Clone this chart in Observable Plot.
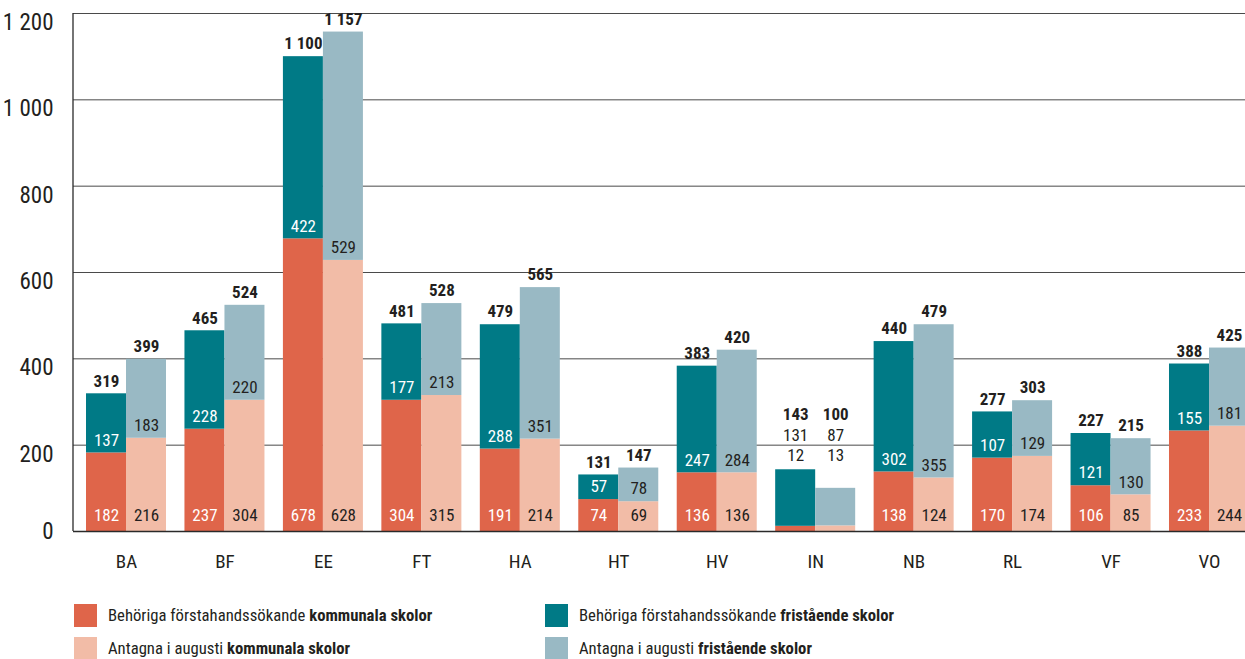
<!DOCTYPE html>
<html><head><meta charset="utf-8">
<script src="https://cdn.jsdelivr.net/npm/d3@7"></script>
<script src="https://cdn.jsdelivr.net/npm/@observablehq/plot@0.6"></script>
<style>
body{margin:0;background:#fff;}
#wrap{position:relative;width:1245px;height:659px;overflow:hidden;font-family:"Liberation Sans Narrow","Roboto Condensed","DejaVu Sans Condensed","Arial Narrow",sans-serif;color:#231f20;}
#chart svg{display:block;}
.leg{position:absolute;display:flex;align-items:center;font-size:16.7px;white-space:nowrap;height:23px;}
.sw{width:23px;height:23px;flex:none;}
.lt{margin-left:11px;}
.lt b{font-weight:bold;}
</style></head><body>
<div id="wrap"><div id="chart"></div><div id="legend"></div></div>
<script>
const categories = ["BA","BF","EE","FT","HA","HT","HV","IN","NB","RL","VF","VO"];
const behorigaKommunala  = [182,237,678,304,191,74,136,12,138,170,106,233];
const behorigaFristaende = [137,228,422,177,288,57,247,131,302,107,121,155];
const antagnaKommunala   = [216,304,628,315,214,69,136,13,124,174,85,244];
const antagnaFristaende  = [183,220,529,213,351,78,284,87,355,129,130,181];
const outsideLabelCategories = ["IN"];
const yTicks = [0,200,400,600,800,1000,1200];
const yTickLabels = ["0","200","400","600","800","1 000","1 200"];
const groups = ["Behöriga förstahandssökande","Antagna i augusti"];
const schools = ["kommunala skolor","fristående skolor"];
const seriesColors = ["#df654a","#007a86","#f2bca7","#99b9c4"]; // beh-komm, beh-fri, ant-komm, ant-fri

const FONT = '"Liberation Sans Narrow","Roboto Condensed","DejaVu Sans Condensed","Arial Narrow",sans-serif';
const DARK = "#231f20";
const fmt = d3.formatLocale({thousands:" ", grouping:[3], decimal:",", currency:["",""]}).format(",d");

const seriesKeys = [];
groups.forEach(g => schools.forEach(s => seriesKeys.push(g + " " + s)));

const segs = [];
const totals = [];
categories.forEach((c, i) => {
  const sets = [[groups[0], behorigaKommunala[i], behorigaFristaende[i]],
                [groups[1], antagnaKommunala[i], antagnaFristaende[i]]];
  const groupMax = Math.max(behorigaKommunala[i] + behorigaFristaende[i], antagnaKommunala[i] + antagnaFristaende[i]);
  sets.forEach(([g, k, f]) => {
    const outside = outsideLabelCategories.includes(c);
    segs.push({cat:c, group:g, school:schools[0], key:g+" "+schools[0], value:k, y1:0, y2:k, outside, anchor:groupMax});
    segs.push({cat:c, group:g, school:schools[1], key:g+" "+schools[1], value:f, y1:k, y2:k+f, outside, anchor:groupMax});
    totals.push({cat:c, group:g, total:k+f, outside, anchor:groupMax});
  });
});

const width = 1245, height = 580;
const marginTop = 13, marginBottom = 49, marginLeft = 73, marginRight = 0;
const xRange = [86, 1249];
const padInner = 0.1874;
const step = (xRange[1] - xRange[0]) / (categories.length - padInner);
const bw = step * (1 - padInner);
const half = bw / 2;

const marks = [];
// gridlines
marks.push(Plot.ruleY(yTicks.filter(d => d > 0), {stroke:"#4a4a4a", strokeWidth:1}));
// bars
groups.forEach((g, gi) => {
  marks.push(Plot.barY(segs.filter(d => d.group === g), {
    x:"cat", y1:"y1", y2:"y2", fill:"key",
    insetLeft: gi === 0 ? 0 : half, insetRight: gi === 0 ? half : 0
  }));
});
// baseline and y axis line
marks.push(Plot.ruleY([0], {stroke:"#2a2a2a", strokeWidth:1.3}));
marks.push((index, scales, values, dimensions) => {
  const svg = d3.create("svg:g");
  svg.append("line")
    .attr("x1", dimensions.marginLeft).attr("x2", dimensions.marginLeft)
    .attr("y1", scales.y(yTicks[yTicks.length-1])).attr("y2", scales.y(0))
    .attr("stroke", "#2a2a2a").attr("stroke-width", 1.3);
  return svg.node();
});
// segment labels
groups.forEach((g, gi) => {
  schools.forEach((s, si) => {
    marks.push(Plot.text(segs.filter(d => d.group === g && d.school === s && !d.outside), {
      x:"cat", y:"y1", text: d => fmt(d.value),
      dx: gi === 0 ? -half/2 : half/2, dy: si === 0 ? -16 : -12.7,
      fill: gi === 0 ? "#ffffff" : DARK, fontSize:17, lineAnchor:"middle", fontFamily:FONT
    }));
  });
  // totals
  marks.push(Plot.text(totals.filter(d => d.group === g && !d.outside), {
    x:"cat", y:"total", text: d => fmt(d.total),
    dx: gi === 0 ? -half/2 : half/2, dy: -12.7,
    fill: DARK, fontSize:17, fontWeight:"bold", lineAnchor:"middle", fontFamily:FONT
  }));
  // outside labels (stacked above)
  marks.push(Plot.text(totals.filter(d => d.group === g && d.outside), {
    x:"cat", y:"anchor", text: d => fmt(d.total),
    dx: gi === 0 ? -half/2 : half/2, dy: -55,
    fill: DARK, fontSize:17, fontWeight:"bold", lineAnchor:"middle", fontFamily:FONT
  }));
  schools.forEach((s, si) => {
    marks.push(Plot.text(segs.filter(d => d.group === g && d.school === s && d.outside), {
      x:"cat", y:"anchor", text: d => fmt(d.value),
      dx: gi === 0 ? -half/2 : half/2, dy: si === 0 ? -14 : -34.5,
      fill: DARK, fontSize:17, lineAnchor:"middle", fontFamily:FONT
    }));
  });
});
// y tick labels
const tickRows = yTicks.map((t, i) => ({t, label:yTickLabels[i]}));
marks.push(Plot.text(tickRows.filter(d => d.t === 0), {
  y:"t", text:"label", frameAnchor:"left", dx:-20,
  textAnchor:"end", lineAnchor:"middle", fill:DARK, fontSize:23, fontFamily:FONT
}));
marks.push(Plot.text(tickRows.filter(d => d.t !== 0), {
  y:"t", text:"label", frameAnchor:"left", dx:-20, dy:9,
  textAnchor:"end", lineAnchor:"middle", fill:DARK, fontSize:23, fontFamily:FONT
}));
// category labels
marks.push(Plot.text(categories, {
  x: d => d, frameAnchor:"bottom", dy:30, lineAnchor:"middle",
  fill:DARK, fontSize:19, fontFamily:FONT
}));

const chart = Plot.plot({
  width, height, marginTop, marginBottom, marginLeft, marginRight,
  style:{fontFamily:FONT, background:"#fff", overflow:"hidden"},
  x:{type:"band", domain:categories, range:xRange, paddingInner:padInner, paddingOuter:0, round:false, axis:null},
  y:{domain:[0, 1200], axis:null},
  color:{domain:seriesKeys, range:seriesColors},
  marks
});
document.getElementById("chart").appendChild(chart);

// legend
const legendPos = [
  {key:seriesKeys[0], left:74, top:604},
  {key:seriesKeys[2], left:74, top:637},
  {key:seriesKeys[1], left:545, top:604},
  {key:seriesKeys[3], left:545, top:637}
];
const legend = document.getElementById("legend");
legendPos.forEach(p => {
  const idx = seriesKeys.indexOf(p.key);
  const g = groups[Math.floor(idx / 2)], s = schools[idx % 2];
  const div = document.createElement("div");
  div.className = "leg";
  div.style.left = p.left + "px";
  div.style.top = p.top + "px";
  const sw = document.createElement("div");
  sw.className = "sw";
  sw.style.background = seriesColors[idx];
  const t = document.createElement("span");
  t.className = "lt";
  t.appendChild(document.createTextNode(g + " "));
  const b = document.createElement("b");
  b.textContent = s;
  t.appendChild(b);
  div.appendChild(sw);
  div.appendChild(t);
  legend.appendChild(div);
});
</script>
</body></html>
